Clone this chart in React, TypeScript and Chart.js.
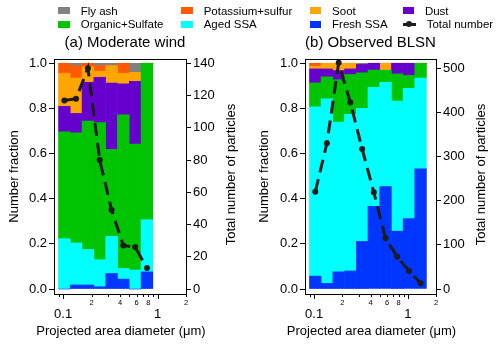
import React, { useEffect, useRef } from 'react';
import { Chart, registerables } from 'chart.js';

Chart.register(...registerables);

const FONT = "'Liberation Sans', Arial, Helvetica, sans-serif";

// Projected area diameter bin centres (µm)
const diameterA = [0.103, 0.137, 0.183, 0.244, 0.326, 0.434, 0.579, 0.772];
const diameterB = [0.103, 0.137, 0.183, 0.244, 0.326, 0.434, 0.579, 0.772, 1.03, 1.37];

// (a) Moderate wind – number fractions per bin
const freshSsaA = [0, 0.018, 0.018, 0.01, 0.069, 0.044, 0, 0.076];
const agedSsaA = [0.223, 0.186, 0.157, 0.12, 0.164, 0.047, 0.084, 0.231];
const organicSulfateA = [0.473, 0.488, 0.569, 0.607, 0.385, 0.681, 0.558, 0.693];
const dustA = [0.113, 0.086, 0.172, 0.201, 0.294, 0.137, 0.278, 0];
const sootA = [0.147, 0.157, 0.069, 0.027, 0.078, 0.047, 0.04, 0];
const potassiumSulfurA = [0.044, 0.055, 0.015, 0.025, 0, 0.044, 0, 0];
const flyAshA = [0, 0.01, 0, 0.01, 0.01, 0, 0.04, 0];
const totalA = [117, 118, 137, 80, 49, 27, 26, 13];

// (b) Observed BLSN – number fractions per bin
const freshSsaB = [0.057, 0.025, 0.076, 0.08, 0.211, 0.366, 0.454, 0.256, 0.312, 0.532];
const agedSsaB = [0.75, 0.818, 0.664, 0.694, 0.589, 0.528, 0.462, 0.577, 0.577, 0.403];
const organicSulfateB = [0.106, 0.097, 0.187, 0.176, 0.158, 0.076, 0.053, 0.12, 0.057, 0.065];
const dustB = [0.062, 0.035, 0.041, 0.025, 0.037, 0.03, 0, 0.047, 0.054, 0];
const sootB = [0.012, 0.025, 0.032, 0.025, 0, 0, 0.031, 0, 0, 0];
const potassiumSulfurB = [0.013, 0, 0, 0, 0, 0, 0, 0, 0, 0];
const flyAshB = [0, 0, 0, 0, 0.005, 0, 0, 0, 0, 0];
const totalB = [220, 330, 512, 422, 317, 219, 115, 73, 41, 13];

// axes
const X_MIN = 0.08;
const X_MAX = 2;
const X_TICKS = [0.09, 0.1, 0.2, 0.3, 0.4, 0.5, 0.6, 0.7, 0.8, 0.9, 1, 2];
const X_MAJOR = [0.1, 1];
const X_MINOR_LABELED = [0.2, 0.4, 0.6, 0.8, 2];
const FRAC_TICKS = [0, 0.2, 0.4, 0.6, 0.8, 1.0];
const FRAC_MIN = -0.022;
const FRAC_MAX = 1.019;
const COUNT_TICKS_A = [0, 20, 40, 60, 80, 100, 120, 140];
const COUNT_TICKS_B = [0, 100, 200, 300, 400, 500];
const COUNT_FULL_A = 140;
const COUNT_FULL_B = 511;

const X_TITLE = 'Projected area diameter (μm)';
const Y_TITLE = 'Number fraction';
const Y1_TITLE = 'Total number of particles';

const SPECIES = ['Fresh SSA', 'Aged SSA', 'Organic+Sulfate', 'Dust', 'Soot', 'Potassium+sulfur', 'Fly ash'];
const COLORS: Record<string, string> = {
  'Fresh SSA': '#0036FF',
  'Aged SSA': '#00FFFF',
  'Organic+Sulfate': '#00C400',
  'Dust': '#6600CC',
  'Soot': '#FFA500',
  'Potassium+sulfur': '#FF5A00',
  'Fly ash': '#808080',
};
const LINE_COLOR = '#1c1c1c';

const near = (a: number, b: number) => Math.abs(a - b) < 1e-9;
const isMajor = (v: number) => X_MAJOR.some((m) => near(m, v));

const framePlugin = {
  id: 'frame',
  afterDraw(chart: any, _args: any, opts: any) {
    const { ctx, chartArea } = chart;
    const { left, right, top, bottom } = chartArea;
    const xt = chart.scales.xt;
    ctx.save();
    ctx.strokeStyle = '#000';
    ctx.lineWidth = 1;
    ctx.beginPath();
    ctx.moveTo(left, Math.round(top) + 0.5);
    ctx.lineTo(right, Math.round(top) + 0.5);
    ctx.stroke();
    xt.ticks.forEach((t: any) => {
      const px = Math.round(xt.getPixelForValue(t.value)) + 0.5;
      const len = isMajor(t.value) ? 5 : 3;
      ctx.beginPath();
      ctx.moveTo(px, bottom);
      ctx.lineTo(px, bottom + len);
      ctx.stroke();
    });
    ctx.font = `13px ${FONT}`;
    ctx.fillStyle = '#000';
    ctx.textAlign = 'center';
    ctx.textBaseline = 'middle';
    // x-axis title
    ctx.fillText(opts.xTitle, (left + right) / 2 + 1, bottom + 37.7);
    // right-axis title (reads bottom to top)
    ctx.translate(right + 45, (top + bottom) / 2 - 2);
    ctx.rotate(-Math.PI / 2);
    ctx.fillText(opts.rightTitle, 0, 0);
    ctx.restore();
  },
};

function makeConfig(p: {
  title: string;
  titleFull: boolean;
  leftWidth: number;
  diam: number[];
  series: number[][];
  totals: number[];
  countTicks: number[];
  countFull: number;
}) {
  const barSets = SPECIES.map((name, i) => ({
    type: 'bar',
    label: name,
    data: p.diam.map((d, j) => ({ x: d, y: p.series[i][j] })),
    backgroundColor: COLORS[name],
    borderWidth: 0,
    stack: 's',
    xAxisID: 'x',
    yAxisID: 'y',
    categoryPercentage: 1,
    barPercentage: 1,
    order: 1,
  }));
  const line = {
    type: 'line',
    label: 'Total number',
    data: p.diam.map((d, j) => ({ x: d, y: p.totals[j] })),
    borderColor: LINE_COLOR,
    backgroundColor: LINE_COLOR,
    borderWidth: 3,
    borderDash: [13, 7],
    pointRadius: 3,
    pointBorderWidth: 0,
    pointBackgroundColor: LINE_COLOR,
    tension: 0,
    fill: false,
    xAxisID: 'x',
    yAxisID: 'y1',
    order: -1,
  };
  const tickFont = { family: FONT, size: 13 };
  return {
    type: 'bar',
    data: { datasets: [line, ...barSets] },
    plugins: [framePlugin],
    options: {
      animation: false,
      responsive: false,
      maintainAspectRatio: false,
      layout: { padding: 0 },
      plugins: {
        legend: { display: false },
        tooltip: { enabled: false },
        title: {
          display: true,
          text: p.title,
          color: '#000',
          fullSize: p.titleFull,
          font: { family: FONT, size: 15, weight: 'normal' },
          padding: { top: 34, bottom: 7 },
        },
        frame: { rightTitle: Y1_TITLE, xTitle: X_TITLE },
      },
      scales: {
        x: {
          type: 'logarithmic',
          display: false,
          min: X_MIN,
          max: X_MAX,
          bounds: 'data',
          offset: false,
          grid: { offset: false },
          afterBuildTicks: (s: any) => {
            s.ticks = [];
          },
        },
        xt: {
          type: 'logarithmic',
          axis: 'x',
          position: 'bottom',
          min: X_MIN,
          max: X_MAX,
          bounds: 'data',
          offset: false,
          grid: { display: false, drawTicks: false, offset: false },
          border: { display: true, color: '#000', width: 1 },
          afterBuildTicks: (s: any) => {
            s.ticks = X_TICKS.map((v) => ({ value: v, major: isMajor(v) }));
          },
          afterFit: (s: any) => {
            s.height = 52;
          },
          ticks: {
            autoSkip: false,
            maxRotation: 0,
            minRotation: 0,
            padding: 2,
            color: '#000',
            font: (c: any) => {
              const v = c.tick ? c.tick.value : 0;
              return isMajor(v)
                ? { family: FONT, size: 13, lineHeight: '12px' }
                : { family: FONT, size: 7.5, lineHeight: '14px' };
            },
            callback: (v: any) => {
              const n = Number(v);
              if (near(n, 0.1)) return ['', '0.1'];
              if (near(n, 1)) return ['', '1'];
              if (X_MINOR_LABELED.some((m) => near(m, n))) return String(Math.round(n < 1 ? n * 10 : n));
              return '';
            },
          },
          title: { display: false },
        },
        y: {
          type: 'linear',
          position: 'left',
          min: FRAC_MIN,
          max: FRAC_MAX,
          bounds: 'data',
          grid: { drawOnChartArea: false, drawTicks: true, tickLength: 5, tickColor: '#000', tickWidth: 1 },
          border: { display: true, color: '#000', width: 1 },
          afterBuildTicks: (s: any) => {
            s.ticks = FRAC_TICKS.map((v) => ({ value: v }));
          },
          afterFit: (s: any) => {
            s.width = p.leftWidth;
          },
          ticks: {
            padding: 2,
            color: '#000',
            font: tickFont,
            callback: (v: any) => Number(v).toFixed(1),
          },
          title: {
            display: true,
            text: Y_TITLE,
            color: '#000',
            font: { family: FONT, size: 13 },
            padding: { top: 7, bottom: 0 },
          },
        },
        y1: {
          type: 'linear',
          position: 'right',
          min: FRAC_MIN * p.countFull,
          max: FRAC_MAX * p.countFull,
          bounds: 'data',
          grid: { drawOnChartArea: false, drawTicks: true, tickLength: 5, tickColor: '#000', tickWidth: 1 },
          border: { display: true, color: '#000', width: 1 },
          afterBuildTicks: (s: any) => {
            s.ticks = p.countTicks.map((v) => ({ value: v }));
          },
          afterFit: (s: any) => {
            s.width = 64;
          },
          ticks: {
            padding: 2,
            color: '#000',
            font: tickFont,
            callback: (v: any) => String(v),
          },
        },
      },
    },
  };
}

const LEGEND_ROWS = [
  ['Fly ash', 'Potassium+sulfur', 'Soot', 'Dust'],
  ['Organic+Sulfate', 'Aged SSA', 'Fresh SSA', 'Total number'],
];
const LEGEND_COL_X = [58.3, 181.3, 309.7, 402.5];
const LEGEND_ROW_Y = [10.7, 24.3];

function Legend() {
  const items: any[] = [];
  LEGEND_ROWS.forEach((row, r) =>
    row.forEach((name, c) => {
      const x = LEGEND_COL_X[c];
      const cy = LEGEND_ROW_Y[r];
      if (name === 'Total number') {
        items.push(
          <div key={name + 'l'} style={{ position: 'absolute', left: x, top: cy - 1.25, width: 13, height: 2.5, background: LINE_COLOR }} />,
          <div key={name + 'd'} style={{ position: 'absolute', left: x + 3.5, top: cy - 3, width: 6, height: 6, borderRadius: 3, background: LINE_COLOR }} />
        );
      } else {
        items.push(
          <div key={name + 'b'} style={{ position: 'absolute', left: x, top: cy - 3.75, width: 11.7, height: 7.5, background: COLORS[name] }} />
        );
      }
      items.push(
        <div
          key={name + 't'}
          style={{
            position: 'absolute',
            left: x + (name === 'Total number' ? 24.2 : 22.4),
            top: cy - 7,
            height: 14,
            lineHeight: '14px',
            fontSize: 11.5,
            fontFamily: FONT,
            color: '#000',
            whiteSpace: 'nowrap',
          }}
        >
          {name}
        </div>
      );
    })
  );
  return <>{items}</>;
}

export default function App() {
  const refA = useRef<HTMLCanvasElement>(null);
  const refB = useRef<HTMLCanvasElement>(null);

  useEffect(() => {
    const chartA = new Chart(
      refA.current as HTMLCanvasElement,
      makeConfig({
        title: '(a) Moderate wind',
        titleFull: true,
        leftWidth: 54,
        diam: diameterA,
        series: [freshSsaA, agedSsaA, organicSulfateA, dustA, sootA, potassiumSulfurA, flyAshA],
        totals: totalA,
        countTicks: COUNT_TICKS_A,
        countFull: COUNT_FULL_A,
      }) as any
    );
    const chartB = new Chart(
      refB.current as HTMLCanvasElement,
      makeConfig({
        title: '(b) Observed BLSN',
        titleFull: false,
        leftWidth: 55,
        diam: diameterB,
        series: [freshSsaB, agedSsaB, organicSulfateB, dustB, sootB, potassiumSulfurB, flyAshB],
        totals: totalB,
        countTicks: COUNT_TICKS_B,
        countFull: COUNT_FULL_B,
      }) as any
    );
    return () => {
      chartA.destroy();
      chartB.destroy();
    };
  }, []);

  return (
    <div style={{ position: 'absolute', left: 0, top: 0, width: 500, height: 346, background: '#fff', overflow: 'hidden' }}>
      <canvas ref={refA} width={250} height={346} style={{ position: 'absolute', left: 0, top: 0, width: 250, height: 346 }} />
      <canvas ref={refB} width={250} height={346} style={{ position: 'absolute', left: 250, top: 0, width: 250, height: 346 }} />
      <Legend />
    </div>
  );
}
